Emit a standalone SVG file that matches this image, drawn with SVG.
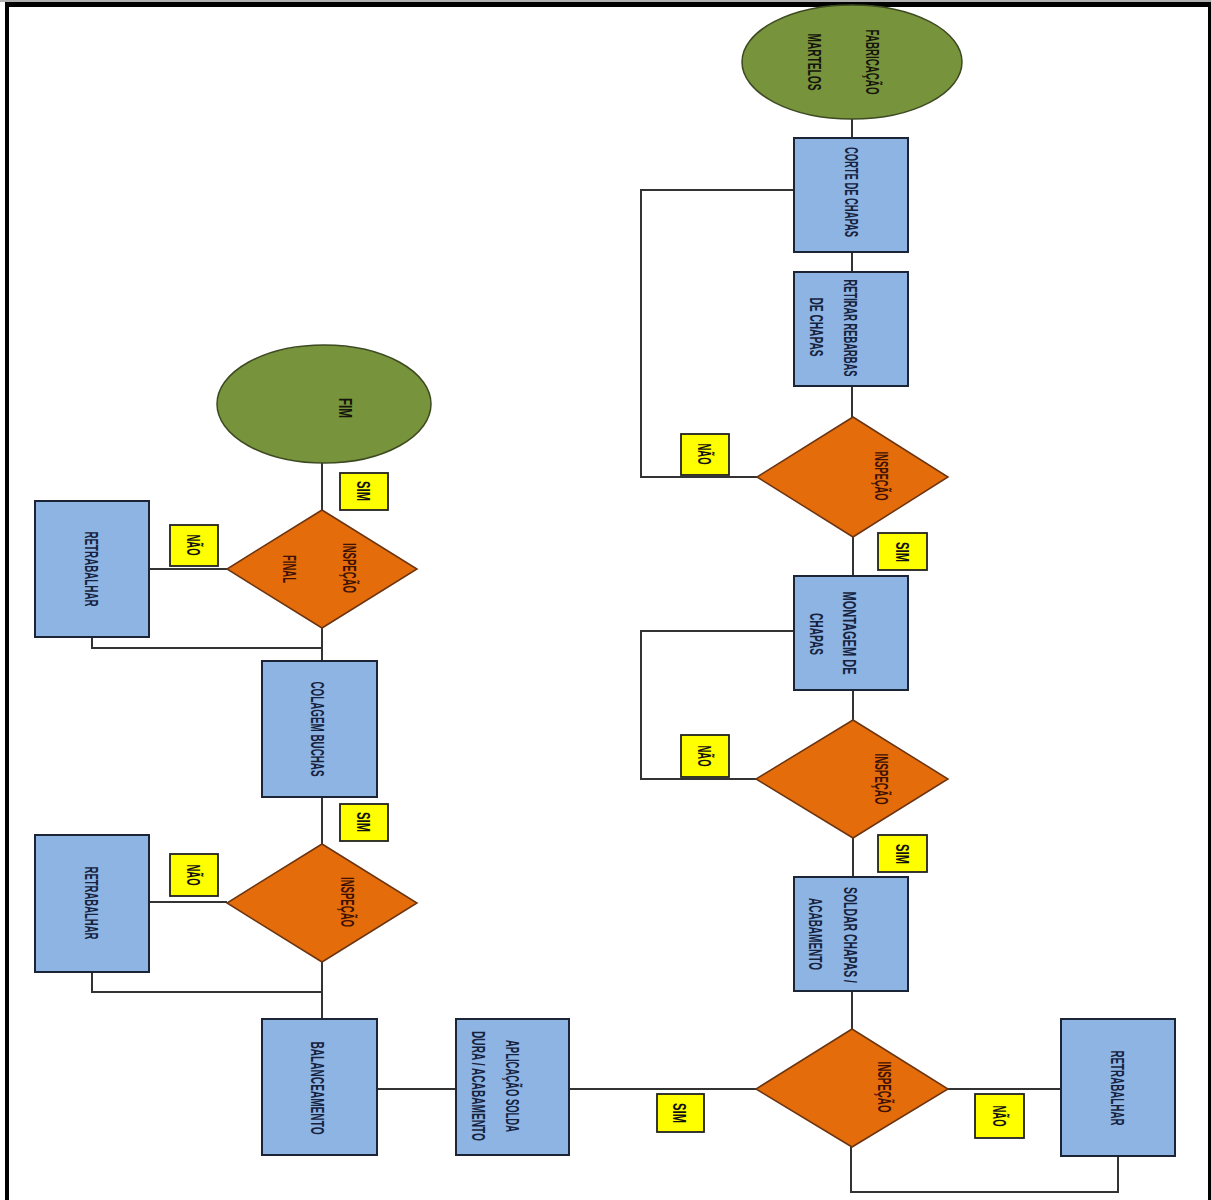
<svg xmlns="http://www.w3.org/2000/svg" width="1211" height="1200" viewBox="0 0 1211 1200">
<style>
.bg{fill:#ffffff}
.frame{fill:#000000}
.oval{fill:#77933C;stroke:#3d4a22;stroke-width:1.5}
.box{fill:#8DB4E2;stroke:#1c2535;stroke-width:2}
.dia{fill:#E46C0A;stroke:#6b3410;stroke-width:1.5}
.lab{fill:#FFFF00;stroke:#222222;stroke-width:1.8}
.con{fill:none;stroke:#333333;stroke-width:2}
text{font-family:"Liberation Sans Narrow","Liberation Sans",Arial,sans-serif;font-weight:bold;font-size:19px;text-anchor:middle}
.tb{fill:#16223e}
.td{fill:#3f1004}
.to{fill:#15150c}
.tl{fill:#111111}
</style>
<rect class="bg" x="0" y="0" width="1211" height="1200"/>
<rect x="0" y="0" width="1211" height="2" fill="#b0b0b0"/>
<rect class="frame" x="5" y="2" width="1206" height="5"/>
<rect class="frame" x="5" y="2" width="4" height="1198"/>
<rect class="frame" x="1208" y="2" width="3" height="1198"/>

<g id="connectors">
<line class="con" x1="852" y1="119" x2="852" y2="138"/>
<line class="con" x1="852" y1="252" x2="852" y2="272"/>
<line class="con" x1="852" y1="386" x2="852" y2="417"/>
<line class="con" x1="853" y1="537" x2="853" y2="576"/>
<polyline class="con" points="794,190 641,190 641,477 757,477"/>
<line class="con" x1="853" y1="690" x2="853" y2="720"/>
<polyline class="con" points="794,631 641,631 641,779 756,779"/>
<line class="con" x1="853" y1="838" x2="853" y2="877"/>
<line class="con" x1="852" y1="991" x2="852" y2="1029"/>
<line class="con" x1="948" y1="1089" x2="1061" y2="1089"/>
<polyline class="con" points="1118,1156 1118,1192 851,1192 851,1147"/>
<line class="con" x1="756" y1="1089" x2="569" y2="1089"/>
<line class="con" x1="456" y1="1089" x2="372" y2="1089"/>
<line class="con" x1="322" y1="1019" x2="322" y2="962"/>
<polyline class="con" points="322,992 92,992 92,972"/>
<line class="con" x1="227" y1="902" x2="149" y2="902"/>
<line class="con" x1="322" y1="844" x2="322" y2="797"/>
<line class="con" x1="322" y1="661" x2="322" y2="628"/>
<polyline class="con" points="322,648 92,648 92,637"/>
<line class="con" x1="227" y1="569" x2="149" y2="569"/>
<line class="con" x1="322" y1="510" x2="322" y2="463"/>
</g>

<g id="n-inicio">
<ellipse class="oval" cx="852" cy="62" rx="110" ry="57"/>
<text class="to" transform="translate(873,62) rotate(90)" dy="0.35em" textLength="65" lengthAdjust="spacingAndGlyphs">FABRICAÇÃO</text>
<text class="to" transform="translate(815,62) rotate(90)" dy="0.35em" textLength="57" lengthAdjust="spacingAndGlyphs">MARTELOS</text>
</g>

<g id="n-corte">
<rect class="box" x="794" y="138" width="114" height="114"/>
<text class="tb" transform="translate(852,192) rotate(90)" dy="0.35em" textLength="90" lengthAdjust="spacingAndGlyphs">CORTE DE CHAPAS</text>
</g>

<g id="n-retirar">
<rect class="box" x="794" y="272" width="114" height="114"/>
<text class="tb" transform="translate(851,328) rotate(90)" dy="0.35em" textLength="97" lengthAdjust="spacingAndGlyphs">RETIRAR REBARBAS</text>
<text class="tb" transform="translate(817,327) rotate(90)" dy="0.35em" textLength="59" lengthAdjust="spacingAndGlyphs">DE CHAPAS</text>
</g>

<g id="n-insp1">
<polygon class="dia" points="853,417 948,477 853,537 757,477"/>
<text class="td" transform="translate(882,476) rotate(90)" dy="0.35em" textLength="49" lengthAdjust="spacingAndGlyphs">INSPEÇÃO</text>
</g>
<g id="l-nao1">
<rect class="lab" x="681" y="434" width="48" height="41"/>
<text class="tl" transform="translate(705,454) rotate(90)" dy="0.35em" textLength="21" lengthAdjust="spacingAndGlyphs">NÃO</text>
</g>
<g id="l-sim1">
<rect class="lab" x="878" y="533" width="49" height="37"/>
<text class="tl" transform="translate(903,552) rotate(90)" dy="0.35em" textLength="20" lengthAdjust="spacingAndGlyphs">SIM</text>
</g>

<g id="n-montagem">
<rect class="box" x="794" y="576" width="114" height="114"/>
<text class="tb" transform="translate(850,633) rotate(90)" dy="0.35em" textLength="83" lengthAdjust="spacingAndGlyphs">MONTAGEM DE</text>
<text class="tb" transform="translate(817,634) rotate(90)" dy="0.35em" textLength="42" lengthAdjust="spacingAndGlyphs">CHAPAS</text>
</g>

<g id="n-insp2">
<polygon class="dia" points="853,720 948,779 853,838 756,779"/>
<text class="td" transform="translate(882,779) rotate(90)" dy="0.35em" textLength="51" lengthAdjust="spacingAndGlyphs">INSPEÇÃO</text>
</g>
<g id="l-nao2">
<rect class="lab" x="681" y="735" width="48" height="42"/>
<text class="tl" transform="translate(705,756) rotate(90)" dy="0.35em" textLength="21" lengthAdjust="spacingAndGlyphs">NÃO</text>
</g>
<g id="l-sim2">
<rect class="lab" x="878" y="835" width="49" height="37"/>
<text class="tl" transform="translate(903,854) rotate(90)" dy="0.35em" textLength="20" lengthAdjust="spacingAndGlyphs">SIM</text>
</g>

<g id="n-soldar">
<rect class="box" x="794" y="877" width="114" height="114"/>
<text class="tb" transform="translate(851,935) rotate(90)" dy="0.35em" textLength="96" lengthAdjust="spacingAndGlyphs">SOLDAR CHAPAS /</text>
<text class="tb" transform="translate(816,934) rotate(90)" dy="0.35em" textLength="72" lengthAdjust="spacingAndGlyphs">ACABAMENTO</text>
</g>

<g id="n-insp3">
<polygon class="dia" points="852,1029 948,1089 852,1147 756,1089"/>
<text class="td" transform="translate(885,1087) rotate(90)" dy="0.35em" textLength="51" lengthAdjust="spacingAndGlyphs">INSPEÇÃO</text>
</g>
<g id="l-sim3">
<rect class="lab" x="657" y="1094" width="47" height="38"/>
<text class="tl" transform="translate(680,1113) rotate(90)" dy="0.35em" textLength="20" lengthAdjust="spacingAndGlyphs">SIM</text>
</g>
<g id="l-nao3">
<rect class="lab" x="975" y="1094" width="49" height="44"/>
<text class="tl" transform="translate(1000,1116) rotate(90)" dy="0.35em" textLength="21" lengthAdjust="spacingAndGlyphs">NÃO</text>
</g>

<g id="n-retrab3">
<rect class="box" x="1061" y="1019" width="114" height="137"/>
<text class="tb" transform="translate(1118,1088) rotate(90)" dy="0.35em" textLength="75" lengthAdjust="spacingAndGlyphs">RETRABALHAR</text>
</g>

<g id="n-aplicacao">
<rect class="box" x="456" y="1019" width="113" height="136"/>
<text class="tb" transform="translate(513,1086) rotate(90)" dy="0.35em" textLength="92" lengthAdjust="spacingAndGlyphs">APLICAÇÃO SOLDA</text>
<text class="tb" transform="translate(479,1086) rotate(90)" dy="0.35em" textLength="110" lengthAdjust="spacingAndGlyphs">DURA / ACABAMENTO</text>
</g>

<g id="n-balanceamento">
<rect class="box" x="262" y="1019" width="115" height="136"/>
<text class="tb" transform="translate(318,1088) rotate(90)" dy="0.35em" textLength="93" lengthAdjust="spacingAndGlyphs">BALANCEAMENTO</text>
</g>

<g id="n-insp4">
<polygon class="dia" points="322,844 417,903 322,962 227,903"/>
<text class="td" transform="translate(348,902) rotate(90)" dy="0.35em" textLength="50" lengthAdjust="spacingAndGlyphs">INSPEÇÃO</text>
</g>
<g id="l-nao4">
<rect class="lab" x="170" y="854" width="48" height="42"/>
<text class="tl" transform="translate(194,875) rotate(90)" dy="0.35em" textLength="21" lengthAdjust="spacingAndGlyphs">NÃO</text>
</g>
<g id="l-sim4">
<rect class="lab" x="340" y="804" width="48" height="37"/>
<text class="tl" transform="translate(364,822) rotate(90)" dy="0.35em" textLength="20" lengthAdjust="spacingAndGlyphs">SIM</text>
</g>

<g id="n-retrab4">
<rect class="box" x="35" y="835" width="114" height="137"/>
<text class="tb" transform="translate(92,903) rotate(90)" dy="0.35em" textLength="73" lengthAdjust="spacingAndGlyphs">RETRABALHAR</text>
</g>

<g id="n-colagem">
<rect class="box" x="262" y="661" width="115" height="136"/>
<text class="tb" transform="translate(318,729) rotate(90)" dy="0.35em" textLength="95" lengthAdjust="spacingAndGlyphs">COLAGEM BUCHAS</text>
</g>

<g id="n-inspfinal">
<polygon class="dia" points="322,510 417,569 322,628 227,569"/>
<text class="td" transform="translate(350,568) rotate(90)" dy="0.35em" textLength="50" lengthAdjust="spacingAndGlyphs">INSPEÇÃO</text>
<text class="td" transform="translate(290,569) rotate(90)" dy="0.35em" textLength="28" lengthAdjust="spacingAndGlyphs">FINAL</text>
</g>
<g id="l-nao5">
<rect class="lab" x="170" y="525" width="48" height="41"/>
<text class="tl" transform="translate(194,545) rotate(90)" dy="0.35em" textLength="21" lengthAdjust="spacingAndGlyphs">NÃO</text>
</g>
<g id="l-sim5">
<rect class="lab" x="340" y="473" width="48" height="37"/>
<text class="tl" transform="translate(364,491) rotate(90)" dy="0.35em" textLength="20" lengthAdjust="spacingAndGlyphs">SIM</text>
</g>

<g id="n-retrab5">
<rect class="box" x="35" y="501" width="114" height="136"/>
<text class="tb" transform="translate(92,569) rotate(90)" dy="0.35em" textLength="75" lengthAdjust="spacingAndGlyphs">RETRABALHAR</text>
</g>

<g id="n-fim">
<ellipse class="oval" cx="324" cy="404" rx="107" ry="59"/>
<text class="to" transform="translate(346,408) rotate(90)" dy="0.35em" textLength="20" lengthAdjust="spacingAndGlyphs">FIM</text>
</g>
</svg>
